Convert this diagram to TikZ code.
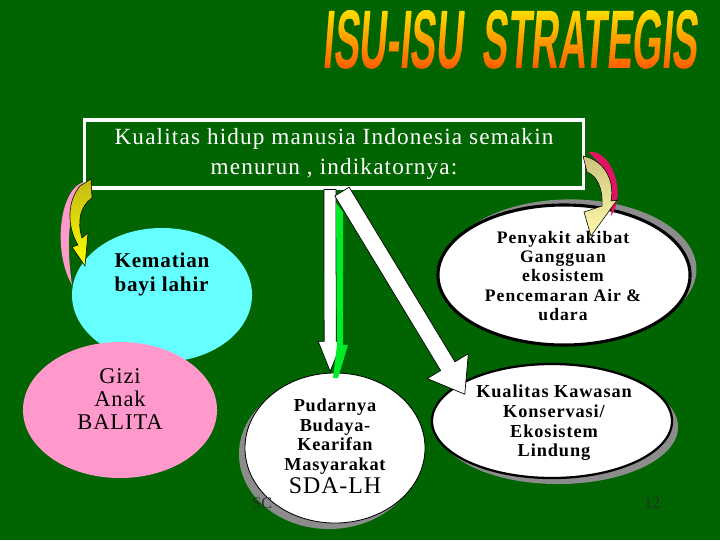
\documentclass[tikz,border=0pt]{standalone}
\usepackage{fontspec}
\setmainfont{Liberation Serif}
\newfontfamily\titlefont{Liberation Sans}[FakeStretch=0.46,FakeSlant=0.08]
\usetikzlibrary{calc, shapes.geometric, shadows}

\definecolor{bggreen}{RGB}{0,100,0}
\definecolor{kemcyan}{RGB}{102,255,255}
\definecolor{gizipink}{RGB}{255,153,204}
\definecolor{shadowgray}{RGB}{140,140,140}
\definecolor{arrgreen}{RGB}{0,235,40}
\definecolor{crimson}{RGB}{225,20,100}
\definecolor{olive}{RGB}{195,185,20}
\definecolor{khaki}{RGB}{205,195,125}
\definecolor{paleyellow}{RGB}{255,250,170}
\definecolor{titletop}{RGB}{255,225,0}
\definecolor{titlebot}{RGB}{255,90,0}
\definecolor{pagegray}{RGB}{40,45,40}

\tikzset{
  oval/.style={ellipse, inner sep=0pt, fill=white},
  ovaltext/.style={align=center, inner sep=0pt,
    font=\fontsize{13}{14}\selectfont\bfseries\addfontfeature{LetterSpace=5}},
  barrow/.style={fill=white, draw=black, line width=0.5pt, line join=miter},
  titletext/.style={inner sep=0pt, font=\titlefont\bfseries\fontsize{59}{60}\selectfont},
}

% block arrow: [opts]{from}{to}{half shaft}{half head}{head length}
\newcommand\blockarrow[6][]{%
  \path ($(#3)!#6!(#2)$) coordinate (ahead);
  \draw[barrow,#1] ($(#2)!#4!90:(#3)$) -- ($(ahead)!#4!90:(#3)$)
    -- ($(ahead)!#5!90:(#3)$) -- (#3) -- ($(ahead)!#5!-90:(#3)$)
    -- ($(ahead)!#4!-90:(#3)$) -- ($(#2)!#4!-90:(#3)$) -- cycle;}

\begin{document}
\begin{tikzpicture}[x=0.025cm, y=-0.025cm]
\useasboundingbox (0,0) rectangle (720,540);
\fill[bggreen] (0,0) rectangle (720,540);

% title, shaded in bands
\foreach \i in {0,...,23} {
  \pgfmathsetmacro\pct{100*\i/23}
  \begin{scope}
    \clip (300,{8+\i*2.667}) rectangle (715,{8+(\i+1)*2.667+0.3});
    \node[titletext, text=titlebot!\pct!titletop] (title) at (510,40) {ISU-ISU\hspace{13.5pt}STRATEGIS};
  \end{scope}
}

\node[oval, fill=kemcyan, minimum width=4.5cm, minimum height=3.35cm] (kem) at (162,295) {};
\node[align=left, inner sep=0pt, font=\fontsize{15}{17}\selectfont\bfseries\addfontfeature{LetterSpace=4}]
  (kemtxt) at (162,274) {Kematian\\bayi lahir};

\node[oval, fill=gizipink, minimum width=4.85cm, minimum height=3.4cm] (gizi) at (120,410) {};
\node[align=center, inner sep=0pt, font=\fontsize{16}{16.3}\selectfont\addfontfeature{LetterSpace=4}]
  (gizitxt) at (120,399) {Gizi\\Anak\\BALITA};

\node[oval, draw=black, line width=2.2pt, minimum width=6.3cm, minimum height=3.5cm,
  drop shadow={shadow xshift=0.16cm, shadow yshift=0.14cm, fill=shadowgray, opacity=1}]
  (peny) at (564,275) {};
\node[ovaltext, font=\fontsize{12.5}{13.7}\selectfont\bfseries\addfontfeature{LetterSpace=6}]
  (penytxt) at (563,276) {Penyakit akibat\\Gangguan\\ekosistem\\Pencemaran Air \&\\udara};

\node[oval, draw=black, line width=1.6pt, minimum width=6cm, minimum height=2.85cm,
  drop shadow={shadow xshift=0.15cm, shadow yshift=-0.15cm, fill=shadowgray, opacity=1}]
  (kk) at (552,421) {};
\node[ovaltext] (kktxt) at (554,423)
  {Kualitas Kawasan\\Konservasi/\\Ekosistem\\Lindung};

\node[oval, draw=black, line width=0.6pt, minimum width=4.5cm, minimum height=3.75cm,
  drop shadow={shadow xshift=-0.15cm, shadow yshift=-0.15cm, fill=shadowgray, opacity=1}]
  (pud) at (335,448) {};
\node[ovaltext, font=\fontsize{13}{14}\selectfont\bfseries\addfontfeature{LetterSpace=4}]
  (pudtxt) at (335,446) {Pudarnya\\Budaya-\\Kearifan\\Masyarakat\\[1pt]
  {\fontsize{17}{17}\selectfont\mdseries SDA-LH}};
\node[anchor=west, text=pagegray, inner sep=0pt, font=\fontsize{11.5}{13}\selectfont] (foot) at (252,503) {SC};

\node[draw=white, line width=2.2pt, minimum width=12.45cm, minimum height=1.7cm, text=white,
  align=center, font=\fontsize{16.5}{21}\selectfont\addfontfeature{LetterSpace=5}]
  (box) at (334,154) {Kualitas hidup manusia Indonesia semakin\\menurun , indikatornya:};

\coordinate (v0) at ([xshift=-0.1cm]box.south);
\coordinate (v1) at ([xshift=-0.12cm,yshift=0.03cm]pud.north);
\blockarrow{v0}{v1}{0.15cm}{0.3cm}{0.75cm}
\fill[arrgreen] (336,203) -- (343,212) -- (343,345) -- (348,345) -- (338,378)
  -- (333,378) -- (337,345) -- cycle;

\coordinate (d0) at ([xshift=0.2cm,yshift=-0.05cm]box.south);
\coordinate (d1) at ([shift={(-2.18cm,0.67cm)}]kk.center);
\blockarrow{d0}{d1}{0.21cm}{0.6cm}{0.82cm}

% curved arrows
\fill[gizipink] (84,182) .. controls (60,188) and (52,250) .. (72,285)
  .. controls (67,250) and (66,210) .. (84,182) -- cycle;
\draw[black, line width=0.4pt, top color=olive, bottom color=yellow]
  (80,186) -- (91,179) -- (92,198) .. controls (80,206) and (77,222) .. (82,238)
  -- (88,233) -- (85,266) -- (72,247) -- (78,245)
  .. controls (66,225) and (68,200) .. (80,186) -- cycle;

\fill[crimson] (588,152) .. controls (612,148) and (627,195) .. (611,216)
  .. controls (614,190) and (606,166) .. (588,152) -- cycle;
\draw[black, line width=0.4pt, top color=khaki, bottom color=paleyellow]
  (583,156) -- (587,172) .. controls (597,176) and (603,188) .. (602,206)
  -- (584,212) -- (591,236) -- (617,200) -- (611,201)
  .. controls (615,180) and (604,160) .. (583,156) -- cycle;

\node[text=pagegray, font=\fontsize{11.5}{13}\selectfont] (pg) at (652,503) {12};
\end{tikzpicture}
\end{document}
